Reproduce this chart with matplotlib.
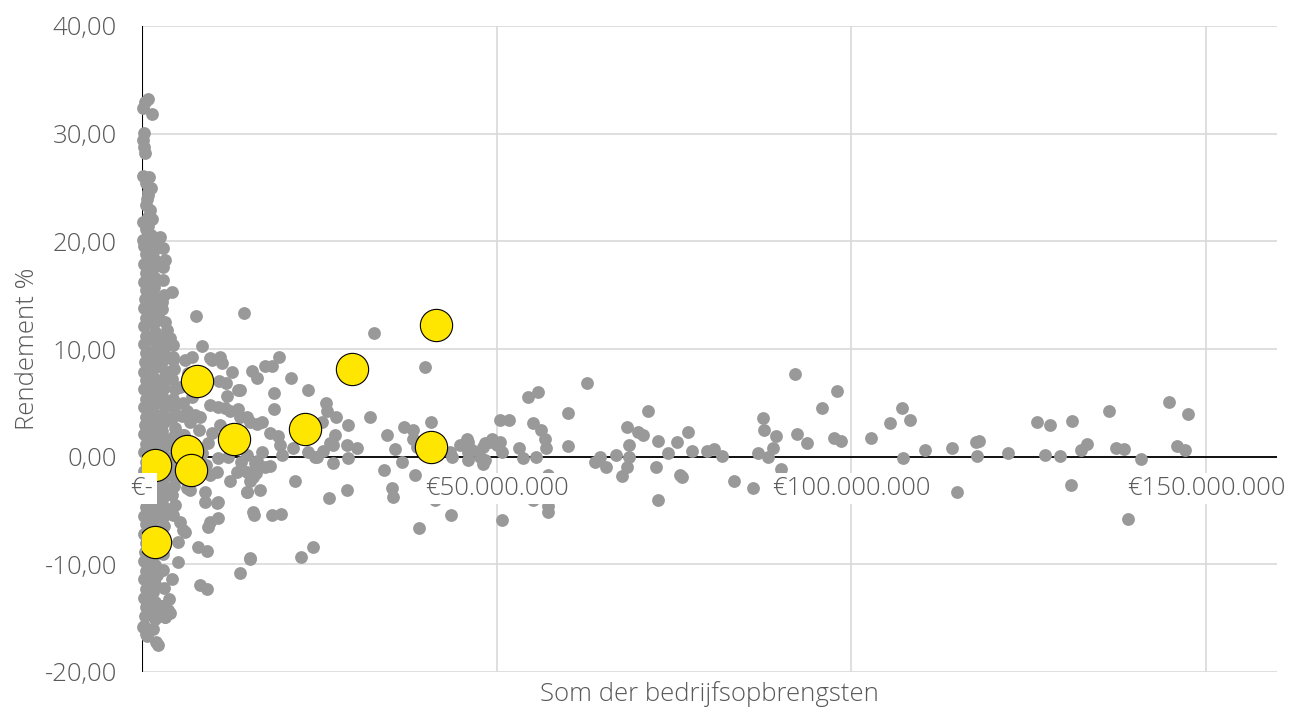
import matplotlib
matplotlib.use("Agg")
import matplotlib.pyplot as plt
import numpy as np

# ---------------- data (omzet in miljoen euro, rendement in %) ----------------
# dense column of small firms near zero revenue
kolom_omzet = [
    0.1, 0.4, 0.8, 1.4, 0.3, 0.2, 0.3, 0.4, 0.2, 0.5, 1.3, 0.8, 0.5, 1.1, 0.8, 0.2, 0.6, 1.2, 0.1,
    2.5, 3.0, 3.2, 3.0, 4.2, 2.8, 2.3, 3.5, 2.5, 4.4, 3.0, 4.0, 4.4,
    # lane A
    0.3, 0.6, 0.3, 0.5, 0.3, 0.6, 0.4, 0.3, 0.6, 0.3, 0.5, 0.3, 0.6, 0.4, 0.3, 0.6, 0.3, 0.5, 0.3, 0.6, 0.4, 0.3,
    0.6, 0.3, 0.5, 0.3, 0.6, 0.4, 0.3, 0.6, 0.3, 0.5, 0.3, 0.6, 0.4, 0.3, 0.6, 0.3, 0.5, 0.3, 0.6, 0.4, 0.3, 0.6,
    # lane B
    1.7, 1.9, 1.6, 1.8, 1.7, 1.9, 1.6, 1.8, 1.7, 1.9, 1.6, 1.8, 1.7, 1.9, 1.6, 1.8, 1.7, 1.9, 1.6, 1.8, 1.7, 1.9,
    1.6, 1.8, 1.7, 1.9, 1.6, 1.8, 1.7, 1.9, 1.6, 1.8, 1.7, 1.9, 1.6, 1.8, 1.7, 1.9, 1.6, 1.8, 1.7, 1.9, 1.6, 2.0,
    # lane C
    2.9, 3.1, 2.8, 3.2, 2.9, 3.1, 2.8, 3.2, 2.9, 3.1, 2.8, 3.2, 2.9, 3.1, 2.8, 3.2, 2.9, 3.1, 2.8, 3.2, 2.9, 3.1,
    2.8, 3.2, 2.9, 3.1, 2.8, 3.0, 2.9, 3.1, 2.8, 3.2,
    # lane D
    4.3, 4.5, 4.2, 4.6, 4.3, 4.5, 4.2, 4.6, 4.3, 4.5, 4.2, 4.6, 4.3, 4.5, 4.2, 4.6, 4.3,
    # lane E and bottom
    5.8, 5.6, 5.9, 5.4, 5.5, 5.8, 1.5, 2.9, 3.9, 3.8, 3.6,
    # extra upper column
    0.9, 1.5, 0.7, 1.4, 0.9, 1.6, 1.0,
]
kolom_rendement = [
    32.4, 32.9, 33.2, 31.8, 30.1, 29.4, 28.8, 28.2, 26.1, 25.4, 25.0, 24.3, 23.4, 22.9, 22.3, 21.8, 21.1, 20.6, 20.1,
    20.4, 19.4, 18.3, 17.6, 15.3, 14.4, 13.2, 11.8, 10.9, 10.4, 9.3, 11.0, 9.3,
    19.6, 18.8, 17.9, 17.1, 16.2, 15.5, 14.6, 13.8, 12.9, 12.1, 11.2, 10.5, 9.6, 8.8, 7.9, 7.1, 6.3, 5.4, 4.6, 3.7, 2.9, 2.1,
    1.2, 0.4, -0.5, -1.3, -2.1, -3.0, -3.8, -4.7, -5.5, -6.3, -7.2, -8.0, -8.9, -9.7, -10.6, -11.4, -12.3, -13.1, -14.0, -14.8, -15.7, -16.5,
    19.2, 18.3, 17.5, 16.6, 15.8, 14.9, 14.1, 13.3, 12.4, 11.6, 10.8, 9.9, 9.1, 8.3, 7.4, 6.6, 5.8, 4.9, 4.1, 3.3, 2.4, 1.6,
    0.8, -0.1, -0.9, -1.7, -2.6, -3.4, -4.3, -5.1, -5.9, -6.8, -7.6, -8.4, -9.3, -10.1, -11.0, -11.8, -12.6, -13.5, -14.3, -15.1, -16.0, -17.2,
    16.4, 15.0, 13.7, 12.5, 11.0, 10.0, 8.9, 8.0, 7.2, 6.4, 5.6, 4.8, 4.0, 3.2, 2.4, 1.6, 0.8, 0.0, -0.8, -1.6, -2.4, -3.2,
    -4.0, -4.8, -5.6, -6.4, -7.3, -9.0, -10.5, -12.2, -13.9, -14.9,
    9.0, 8.1, 7.2, 6.3, 5.4, 4.5, 3.6, 2.7, 1.8, 0.9, 0.0, -0.9, -1.8, -2.7, -3.6, -4.5, -5.4,
    5.0, 3.8, 2.0, 6.5, -0.5, -2.0, -13.4, -14.1, -14.5, -13.2, -14.2,
    21.4, 20.0, 23.9, 22.1, 24.6, 19.9, 26.0,
]

# remaining sector firms
omzet = [
    7.6, 8.5, 7.0, 6.1, 9.6, 9.9, 11.0, 11.3, 12.7, 10.8, 13.5, 9.6, 10.7, 11.7, 13.5, 12.4, 6.3, 7.5, 6.8, 8.2,
    13.8, 9.9, 9.3, 10.7, 12.1, 5.8, 6.8, 8.9, 10.7, 12.4, 13.4, 9.6, 10.6, 8.5, 14.8, 15.9, 10.7, 9.6, 14.8, 15.6,
    5.4, 5.8, 5.1, 7.9, 9.2, 9.3, 8.9, 10.6, 6.3, 15.2, 5.1, 4.2, 8.2, 9.2, 7.5, 8.4, 9.0, 11.5, 12.8, 13.9,
    11.0, 8.0, 6.1, 2.1, 3.2, 2.2, 0.7, 0.1, 1.1, 2.5, 7.0, 8.0, 12.0, 6.5, 9.0, 11.8,
    14.4, 32.7, 39.9, 19.3, 17.3, 18.3, 15.5, 16.2, 21.0, 13.8, 18.6, 23.4, 18.6, 25.9, 26.1, 27.3, 25.4, 29.0, 32.1,
    27.2, 26.5, 26.9, 28.9, 30.3, 29.0, 26.9, 25.5, 24.4, 34.5, 34.1, 35.2, 35.4, 36.9, 38.2, 35.6, 36.6, 38.2, 38.7,
    38.5, 40.7, 41.3, 43.5, 39.0, 43.7, 45.9, 46.5, 45.9, 48.3, 48.3, 49.3, 21.5, 26.3, 28.9, 15.8, 18.3, 19.6, 24.1,
    22.4, 15.2, 13.8, 18.0, 19.2, 19.4, 19.7, 16.9, 16.2, 14.8, 15.2, 16.9, 16.2, 14.8, 16.0, 17.3, 18.0, 15.6, 15.2,
    14.8, 16.6, 21.3, 23.4, 24.6, 43.4, 44.8, 45.8, 45.9, 47.6, 48.0, 49.0, 50.4, 48.0, 50.7,
    50.8, 54.4, 55.8, 50.4, 51.8, 55.1, 56.3, 56.8, 57.0, 53.1, 53.7, 55.6, 50.0, 57.2, 55.1, 57.3, 57.3, 62.7, 60.0,
    60.0, 63.8, 64.5, 65.4, 66.8, 67.6, 68.3, 68.7, 68.7, 68.4, 69.9, 70.6, 71.3, 72.5, 72.7, 72.8, 74.2, 75.4, 75.8,
    76.1, 77.0, 77.6, 79.6, 80.7, 81.8, 83.4, 86.2, 86.8, 87.5, 87.7, 88.2, 88.9, 89.4, 90.1, 92.1, 92.3, 93.7, 95.8,
    98.0, 97.5, 98.6, 102.8, 105.5, 107.2, 108.2, 107.3, 110.4, 114.2, 114.9, 117.6, 118.0, 117.7, 122.1, 126.2,
    128.0, 127.3, 129.4, 131.1, 131.0, 132.3, 133.2, 136.3, 137.3, 138.5, 139.0, 140.8, 144.8, 145.9, 147.0, 147.5,
]
rendement = [
    13.1, 10.3, 9.3, 9.0, 9.2, 9.0, 9.3, 8.7, 7.9, 7.0, 6.2, 4.8, 4.6, 4.5, 4.4, 4.2, 4.2, 3.9, 3.2, 3.7,
    3.7, 2.2, 1.3, -0.1, 0.0, 2.0, -3.1, -3.3, -4.2, -2.3, -1.4, -1.7, -1.4, -0.6, 0.2, -0.6, -5.7, -6.1, -3.3, -5.1,
    -6.1, -6.8, -7.9, -8.4, -8.8, -6.5, -4.2, -4.3, -2.9, -9.4, -9.8, -11.4, -11.9, -12.3, 1.0, 0.3, -0.8, 1.8, 0.8, -0.5,
    2.9, 2.5, -7.0, -11.0, -14.9, -17.5, -16.7, -15.8, -13.3, -13.9, 5.5, 6.3, 5.6, 7.8, 7.5, 6.8,
    13.3, 11.5, 8.3, 9.3, 8.4, 8.4, 8.0, 7.3, 7.3, 6.2, 5.9, 6.2, 4.4, 5.0, 4.2, 3.7, 3.2, 2.9, 3.7,
    2.0, 1.3, 1.1, 1.1, 0.8, -0.1, -0.6, 0.5, 0.0, 2.0, -1.2, -2.9, -3.7, 2.8, 2.5, 0.7, -0.5, 1.6, 0.9,
    -1.7, 3.2, -4.0, -5.4, -6.6, 0.0, 1.4, 0.6, -0.3, 1.3, -0.3, 1.6, -2.3, -3.8, -3.1, -5.4, -5.4, -5.3, -8.4,
    -9.3, -9.5, -10.8, 2.2, 1.9, 1.1, 0.2, 3.2, 3.0, 3.7, 3.2, 0.4, -0.4, -1.4, -1.5, -1.0, -0.9, -1.9, -2.3,
    -3.3, -3.1, 0.8, 0.4, 0.0, 0.4, 1.1, 1.6, 0.4, 0.0, 0.9, 1.4, 1.4, -0.7, 0.4,
    -5.85, 5.5, 6.0, 3.4, 3.4, 3.1, 2.5, 1.6, 0.8, 0.8, -0.1, 0.0, 1.1, -1.7, -4.0, -4.6, -5.1, 6.8, 4.1,
    1.0, -0.5, 0.0, -1.0, 0.2, -1.8, -1.0, 0.0, 1.1, 2.8, 2.3, 2.0, 4.2, -1.0, -4.0, 1.5, 0.3, 1.4, -1.7,
    -1.9, 2.3, 0.5, 0.5, 0.7, 0.1, -2.3, -2.9, 0.3, 3.6, 2.5, 0.0, 0.8, 1.9, -1.1, 7.7, 2.1, 1.3, 4.5,
    6.1, 1.7, 1.5, 1.7, 3.1, 4.5, 3.4, -0.1, 0.6, 0.8, -3.3, 1.4, 1.5, 0.1, 0.3, 3.2,
    2.9, 0.2, 0.1, 3.3, -2.6, 0.6, 1.2, 4.2, 0.8, 0.7, -5.8, -0.2, 5.1, 1.0, 0.6, 4.0,
]

# highlighted firms (yellow)
uitgelicht_omzet = [1.8, 1.8, 6.3, 6.9, 7.7, 13.0, 23.0, 29.6, 41.4, 40.7]
uitgelicht_rendement = [-0.8, -7.9, 0.5, -1.2, 7.0, 1.6, 2.6, 8.1, 12.2, 0.9]

x_ticks = [0, 50e6, 100e6, 150e6]
x_tick_labels = ["€-", "€50.000.000", "€100.000.000", "€150.000.000"]
y_ticks = [-20, -10, 0, 10, 20, 30, 40]

# ---------------- plot ----------------
plt.rcParams['font.family'] = ['Open Sans', 'DejaVu Sans']
plt.rcParams['font.weight'] = 'light'
TXT = '#595959'
GREY = '#999999'
YEL = '#FFE600'
FS = 18.5

fig = plt.figure(figsize=(12.9, 7.07), dpi=100)
ax = fig.add_axes([142/1290, 35/707, 1135/1290, 646/707])
ax.set_xlim(0, 160e6)
ax.set_ylim(-20, 40)

for s in ax.spines.values():
    s.set_visible(False)

ax.set_yticks(y_ticks)
ax.set_yticklabels([f"{v:.2f}".replace('.', ',') for v in y_ticks])
ax.set_xticks(x_ticks)
ax.set_xticklabels([])
ax.tick_params(axis='both', length=0, colors=TXT, labelsize=FS)
ax.tick_params(axis='y', pad=18)
ax.grid(True, color='#d9d9d9', linewidth=1.2, zorder=0)
ax.set_axisbelow(True)

ax.axvline(0, color='black', linewidth=1.5, zorder=1)
ax.axhline(0, color='black', linewidth=1.3, zorder=1)

gx = np.array(kolom_omzet + omzet) * 1e6
gy = np.array(kolom_rendement + rendement)
ax.scatter(gx, gy, s=85, color=GREY, linewidths=0, zorder=3, clip_on=False)
ax.scatter(np.array(uitgelicht_omzet) * 1e6, uitgelicht_rendement, s=540, color=YEL,
           edgecolors='black', linewidths=0.8, zorder=4)

for xv, lab in zip(x_ticks, x_tick_labels):
    ax.annotate(lab, xy=(xv, 0), xytext=(0, -23), textcoords='offset points',
                ha='center', va='center', fontsize=FS, color=TXT, zorder=6, fontweight='light',
                bbox=dict(boxstyle='square,pad=0.12', facecolor='white', edgecolor='none'))

ax.set_ylabel("Rendement %", fontsize=FS, color=TXT, labelpad=3, fontweight='light')
ax.set_xlabel("Som der bedrijfsopbrengsten", fontsize=FS, color=TXT, fontweight='light')
ax.xaxis.set_label_coords(0.5, -0.014)
ax.xaxis.label.set_va('top')

fig.savefig("out.png", dpi=100)
